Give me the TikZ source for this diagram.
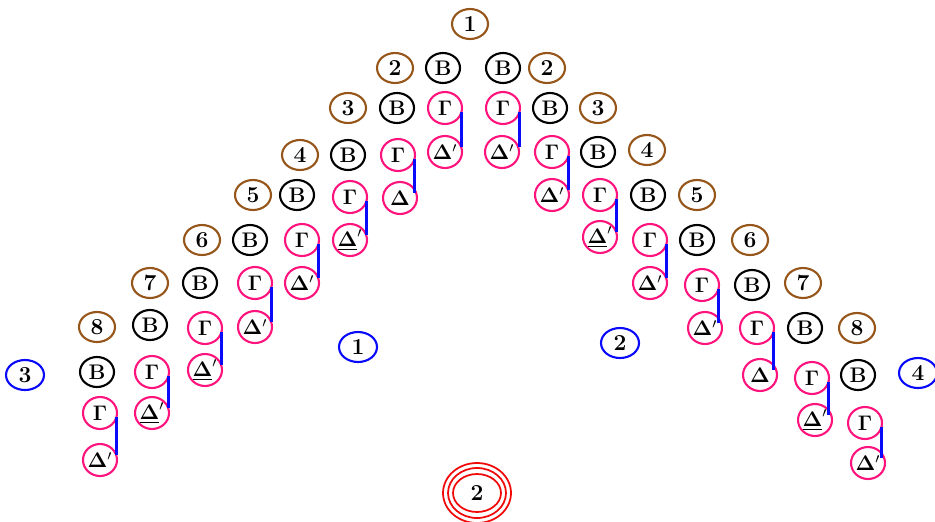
\documentclass[tikz,border=0pt]{standalone}
\usepackage{amsmath,amssymb}
\usepackage{xcolor}
\usepackage{tikz}
\usetikzlibrary{shapes.geometric,calc}
\definecolor{numbrown}{RGB}{150,85,25}
\definecolor{letpink}{RGB}{255,20,125}
\definecolor{linkblue}{RGB}{10,10,250}
\definecolor{ringred}{RGB}{240,10,10}

\newcommand{\dprime}{\makebox[0.36cm][c]{$\mathbf{\Delta}'$}}
\newcommand{\dunder}{\makebox[0.36cm][c]{$\underline{\mathbf{\Delta}}'$}}
\newcommand{\dplain}{\makebox[0.36cm][c]{$\mathbf{\Delta}$}}

\tikzset{
  circ/.style={ellipse, draw, line width=1.2pt, inner sep=0pt,
    minimum width=0.68cm, minimum height=0.6cm,
    font=\fontsize{13}{15}\selectfont\bfseries},
  numnode/.style={circ, draw=numbrown, minimum width=0.72cm},
  bnode/.style={circ, draw=black},
  gnode/.style={circ, draw=letpink, minimum height=0.64cm},
  dnode/.style={circ, draw=letpink, minimum height=0.64cm,
    font=\fontsize{12}{14}\selectfont\bfseries},
  bluenum/.style={circ, draw=linkblue, minimum width=0.76cm},
  link/.style={draw=linkblue, line width=1.7pt, shorten <=0.08cm, shorten >=0.1cm},
  ring/.style={ellipse, draw=ringred, line width=1pt, inner sep=0pt,
    minimum width=0.96cm, minimum height=0.76cm,
    font=\fontsize{13}{15}\selectfont\bfseries}
}

\begin{document}
\begin{tikzpicture}[x=0.02cm, y=-0.02cm]
\useasboundingbox (0,0) rectangle (935,521);

% brown numbers
\node[numnode] (n1) at (470,24) {1};
\foreach \k/\lx/\ly/\rx/\ry in {2/395/68/547/68, 3/348/108/598/108, 4/300/155/647/150,
    5/253/195/697/195, 6/202/240/750/240, 7/150/283/803/283, 8/97/327/857/328}{
  \node[numnode] (nL\k) at (\lx,\ly) {\k};
  \node[numnode] (nR\k) at (\rx,\ry) {\k};
}

% B column
\foreach \k/\lx/\ly/\rx/\ry in {1/443/68/503/68, 2/397/108/550/108, 3/348/155/598/152,
    4/297/195/648/195, 5/250/240/697/240, 6/200/283/752/285, 7/150/325/805/328, 8/97/372/858/375}{
  \node[bnode] (bL\k) at (\lx,\ly) {$\mathbf{B}$};
  \node[bnode] (bR\k) at (\rx,\ry) {$\mathbf{B}$};
}

% Gamma / Delta pairs with their links
\foreach \n/\gx/\gy/\dx/\dy/\lab in {L1/445/108/445/152/\dprime, L2/398/155/400/198/\dplain,
    L3/350/197/350/240/\dunder, L4/302/240/302/283/\dprime, L5/255/283/255/327/\dprime,
    L6/205/328/205/370/\dunder, L7/152/372/152/413/\dunder, L8/100/413/100/460/\dprime,
    R1/503/108/502/152/\dprime, R2/552/152/552/195/\dprime, R3/600/195/600/237/\dunder,
    R4/650/240/650/283/\dprime, R5/702/285/705/328/\dprime, R6/757/328/760/375/\dplain,
    R7/812/378/815/420/\dunder, R8/865/423/868/463/\dprime}{
  \node[gnode] (g\n) at (\gx,\gy) {$\mathbf{\Gamma}$};
  \node[dnode] (d\n) at (\dx,\dy) {\lab};
  \draw[link] ([xshift=-0.03cm]g\n.east) -- ([xshift=-0.03cm]g\n.east |- d\n.east);
}

% blue numbers
\node[bluenum] (m1) at (358,347) {1};
\node[bluenum] (m2) at (620,343) {2};
\node[bluenum] (m3) at (25,375) {3};
\node[bluenum] (m4) at (918,373) {4};

% red rings
\node[ring] (big2) at (477,493) {2};
\draw[ringred, line width=1pt] (big2.center) ellipse [x radius=0.58cm, y radius=0.5cm];
\draw[ringred, line width=1pt] (big2.center) ellipse [x radius=0.68cm, y radius=0.6cm];
\end{tikzpicture}
\end{document}
